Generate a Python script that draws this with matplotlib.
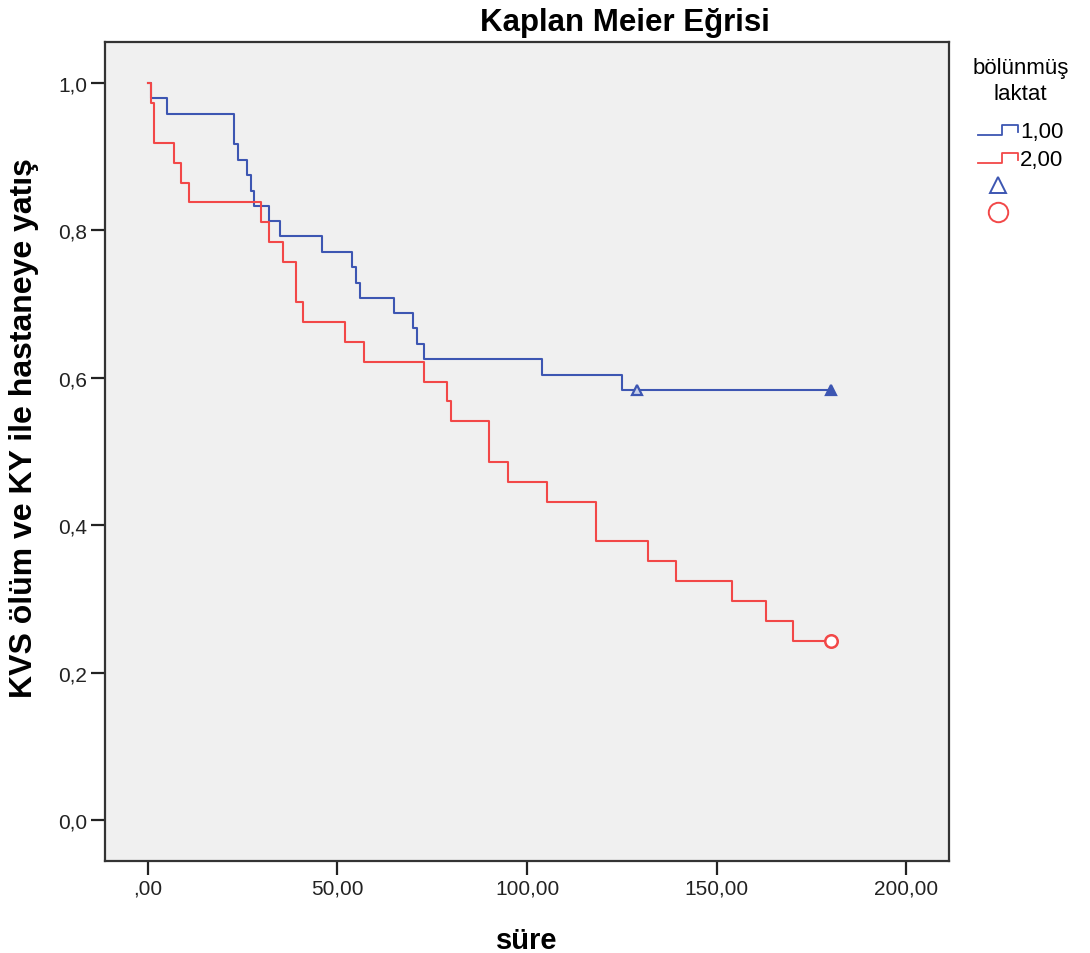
import numpy as np
import matplotlib
matplotlib.use('Agg')
import matplotlib.pyplot as plt
from matplotlib.lines import Line2D
from matplotlib.legend_handler import HandlerLine2D

# grup 1,00 (n=48) - olay zamanları ve sağkalım
t1 = [0, 0.8, 5.0, 22.8, 23.7, 26.1, 27.2, 28.0, 32.0, 34.9, 46.0, 53.9, 54.8,
      55.9, 64.9, 70.0, 70.9, 72.9, 104.0, 124.9, 180.0]
s1 = [1.0, 0.979, 0.958, 0.917, 0.896, 0.875, 0.854, 0.833, 0.8125, 0.792, 0.771,
      0.75, 0.729, 0.708, 0.6875, 0.667, 0.646, 0.625, 0.604, 0.583, 0.583]
cens1_t = [129.0, 180.0]
cens1_s = [0.583, 0.583]
cens1_n = [1, 27]

# grup 2,00 (n=37)
t2 = [0, 1.0, 1.75, 6.9, 8.9, 11.0, 29.9, 32.0, 35.7, 39.1, 40.9, 52.0, 57.0,
      72.8, 79.0, 79.9, 90.0, 94.9, 105.2, 118.1, 132.0, 139.2, 154.1, 163.0,
      170.2, 180.0]
s2 = [1.0, 0.973, 0.919, 0.892, 0.865, 0.838, 0.811, 0.784, 0.757, 0.703, 0.676,
      0.649, 0.622, 0.595, 0.568, 0.541, 0.486, 0.459, 0.432, 0.378, 0.351,
      0.324, 0.297, 0.270, 0.243, 0.243]
cens2_t = [180.0]
cens2_s = [0.243]

x_ticks = [0, 50, 100, 150, 200]
x_labels = [',00', '50,00', '100,00', '150,00', '200,00']
y_ticks = [0.0, 0.2, 0.4, 0.6, 0.8, 1.0]
y_labels = ['0,0', '0,2', '0,4', '0,6', '0,8', '1,0']

blue = '#3d56b2'
red = '#f24848'

plt.rcParams['font.family'] = ['Liberation Sans', 'DejaVu Sans']


class HandlerStep(HandlerLine2D):
    # lejantta basamak şeklinde çizgi
    def create_artists(self, legend, orig_handle, xdescent, ydescent,
                       width, height, fontsize, trans):
        x0, x1 = -xdescent, -xdescent + width
        xm = x0 + width * 0.6
        y0 = height * 0.1
        y1 = height * 0.75
        line = Line2D([x0, xm, xm, x1, x1], [y0, y0, y1, y1, y0 + height * 0.2],
                      color=orig_handle.get_color(), lw=1.3)
        line.set_transform(trans)
        return [line]


fig = plt.figure(figsize=(10.9, 9.54), dpi=100)
ax = fig.add_axes([0.0963, 0.0967, 0.8706 - 0.0963, 0.9552 - 0.0967])
ax.set_facecolor('#f0f0f0')

ax.step(t1, s1, where='post', color=blue, lw=1.5)
ax.step(t2, s2, where='post', color=red, lw=1.5)

for t, s, n in zip(cens1_t, cens1_s, cens1_n):
    ax.plot(t, s, marker='^', ms=7, mec=blue, mew=1.6,
            mfc=blue if n > 1 else '#c8d0ea', ls='none')
ax.plot(cens2_t, cens2_s, marker='o', ms=9, mec=red, mew=1.8, mfc='white', ls='none')

ax.set_xlim(-11.25, 211.2)
ax.set_ylim(-0.0552, 1.056)
ax.set_xticks(x_ticks)
ax.set_xticklabels(x_labels)
ax.set_yticks(y_ticks)
ax.set_yticklabels(y_labels)
ax.tick_params(length=10, width=1.6, labelsize=15, colors='#222222', pad=3)
for sp in ax.spines.values():
    sp.set_color('#333333')
    sp.set_linewidth(1.6)

ax.set_xlabel('süre', fontsize=21, fontweight='bold', labelpad=20)
ax.set_ylabel('KVS ölüm ve KY ile hastaneye yatış', fontsize=23,
              fontweight='bold')
ax.yaxis.set_label_coords(-0.078, 0.53)
fig.text(0.573, 0.976, 'Kaplan Meier Eğrisi', ha='center', va='center',
         fontsize=22.5, fontweight='bold')

h1 = Line2D([], [], color=blue)
h2 = Line2D([], [], color=red)
h3 = Line2D([], [], color=blue, marker='^', ls='none', ms=12, mfc='none', mew=1.4)
h4 = Line2D([], [], color=red, marker='o', ls='none', ms=14, mfc='none', mew=1.4)
leg = fig.legend(handles=[h1, h2, h3, h4], labels=['1,00', '2,00', '', ''],
                 title='bölünmüş\nlaktat', loc='upper left',
                 bbox_to_anchor=(0.878, 0.955), frameon=False, fontsize=16,
                 title_fontsize=16, handlelength=1.8, handletextpad=0.1,
                 labelspacing=0.3, alignment='center', borderpad=0.2,
                 handler_map={h1: HandlerStep(), h2: HandlerStep()})
leg.get_title().set_linespacing(1.3)
leg.get_title().set_multialignment('center')
leg._legend_box.sep = 12

fig.savefig('out.png', dpi=100, facecolor='white')
